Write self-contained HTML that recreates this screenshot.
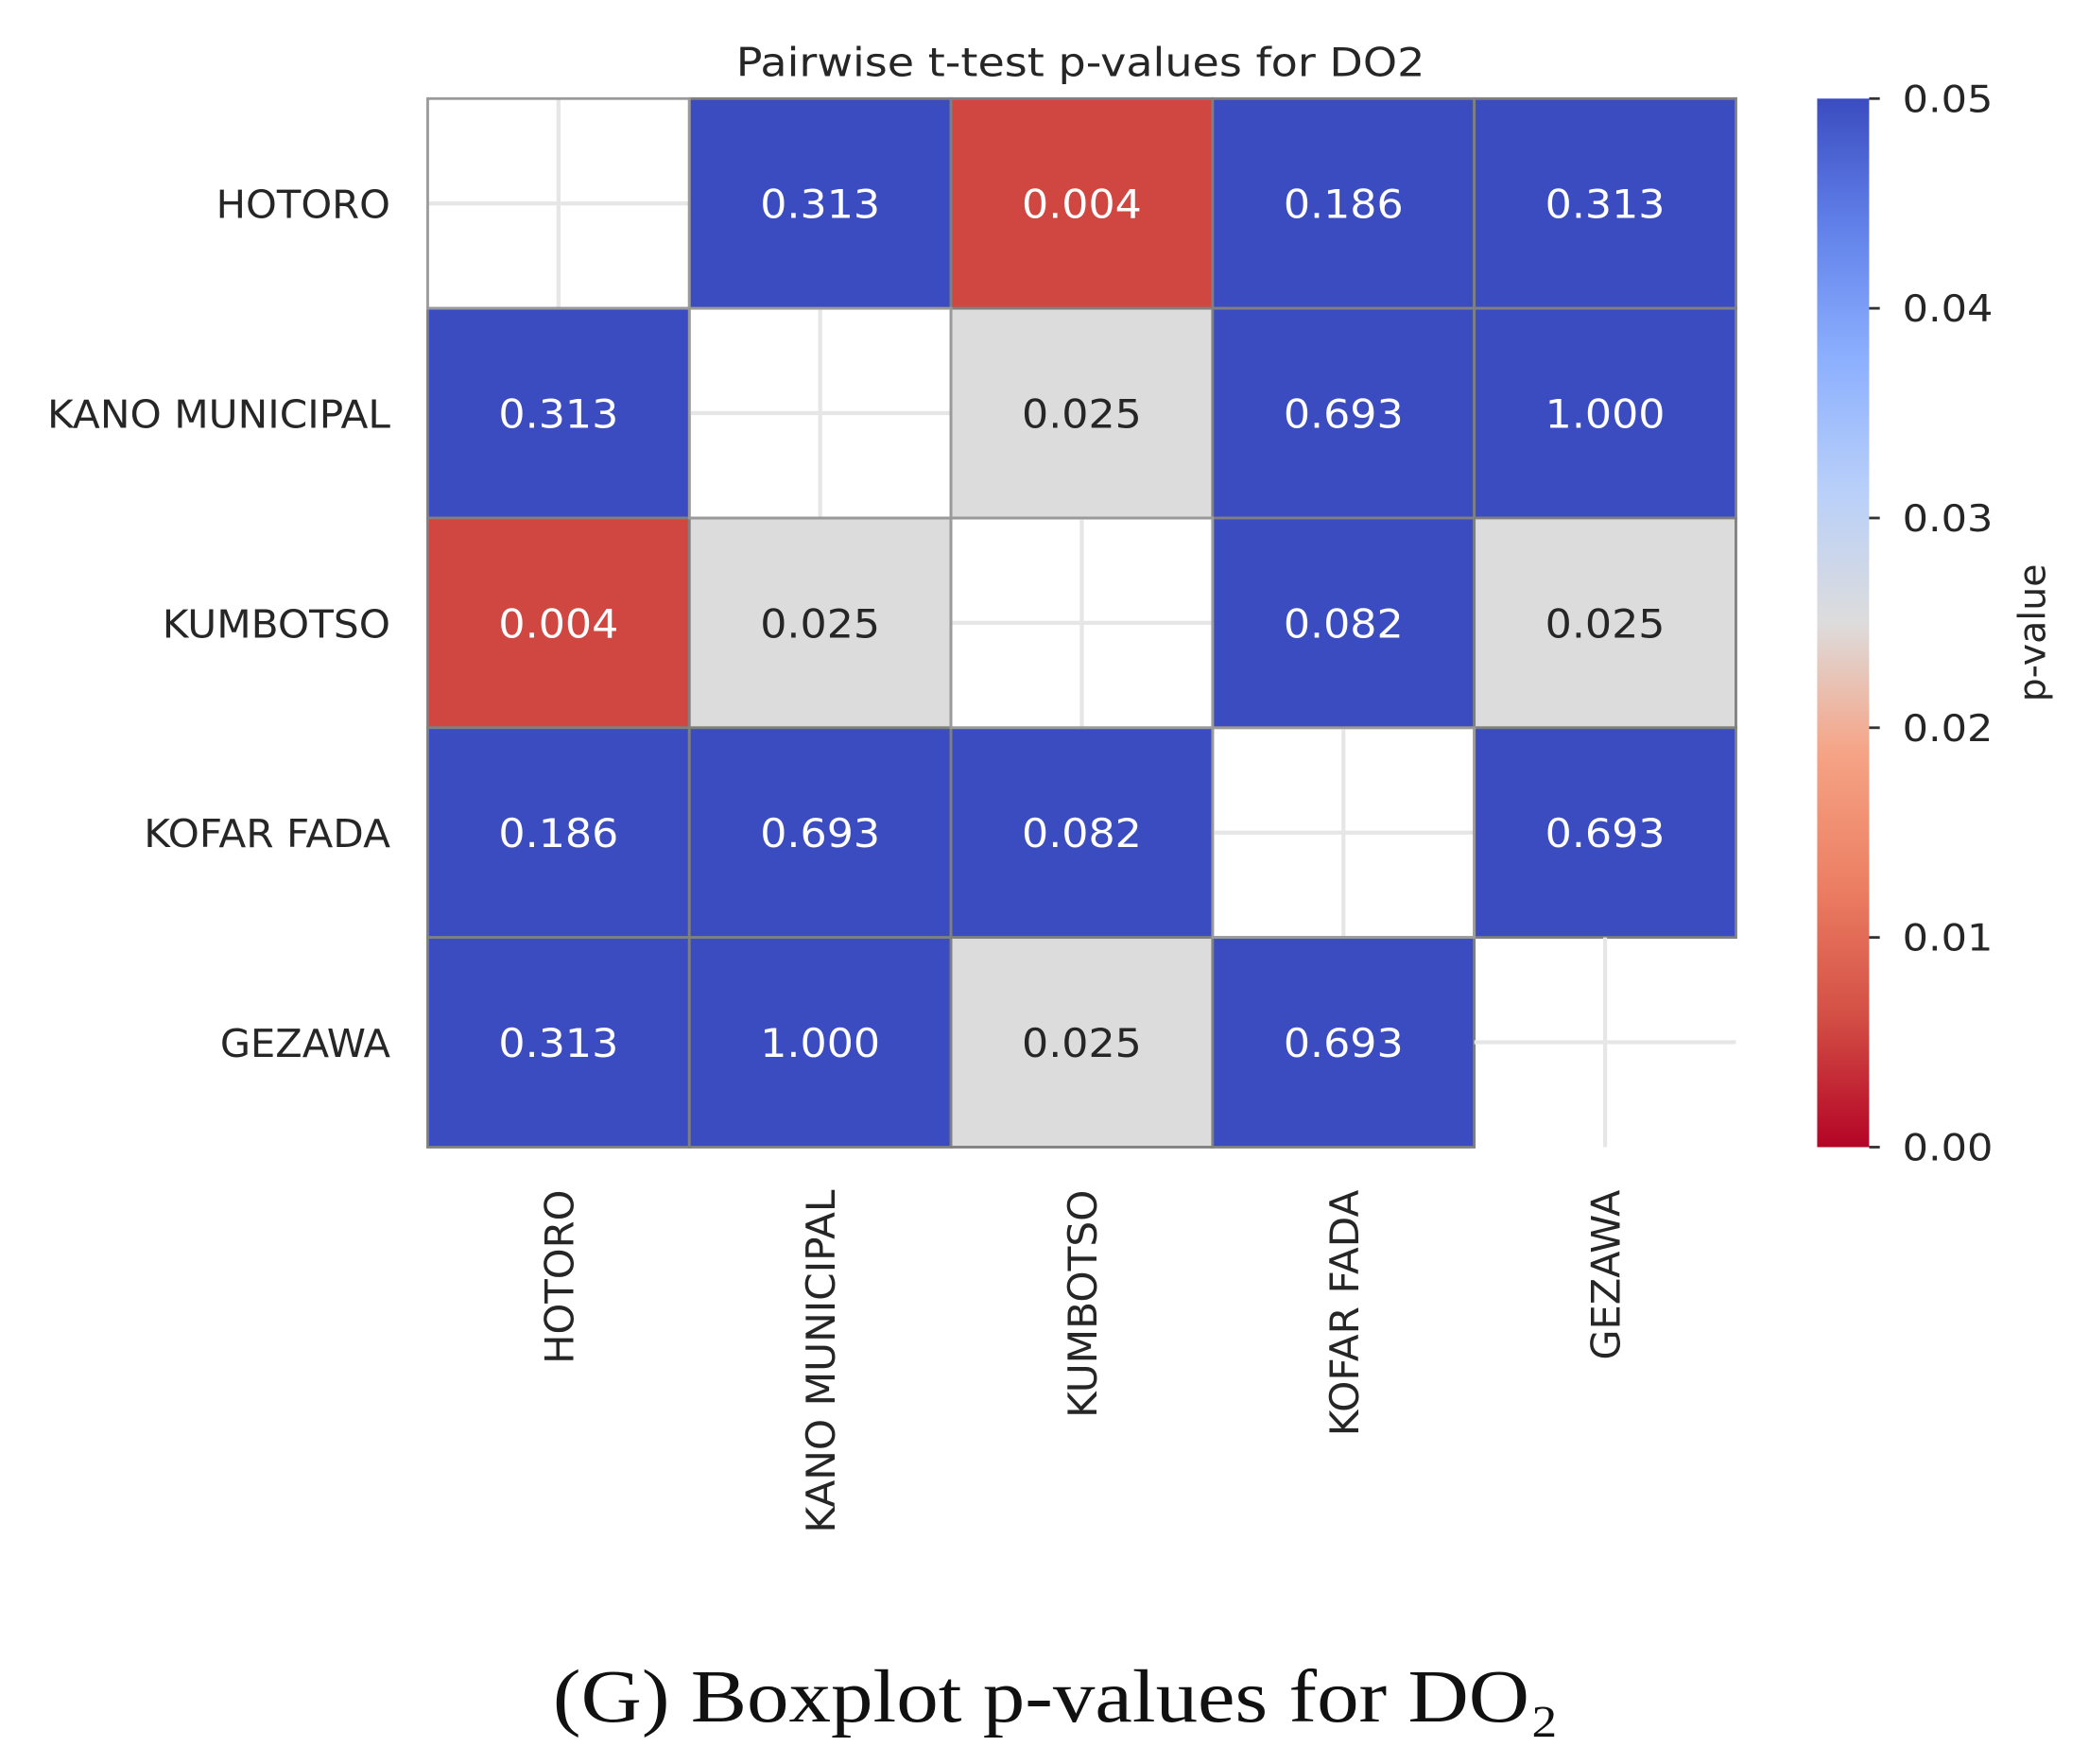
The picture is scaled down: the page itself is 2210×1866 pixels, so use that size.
<!DOCTYPE html>
<html><head><meta charset="utf-8"><style>
html,body{margin:0;padding:0;background:#fff}
svg{display:block}
</style></head><body>
<svg id="chart" width="2210" height="1866" viewBox="0 0 1568 1324" xmlns="http://www.w3.org/2000/svg" font-family="DejaVu Sans, Liberation Sans, sans-serif">
<defs>
<linearGradient id="cbgrad" x1="0" y1="1" x2="0" y2="0">
<stop offset="0" stop-color="#b40426"/>
<stop offset="0.125" stop-color="#d34f45"/>
<stop offset="0.25" stop-color="#ec7f63"/>
<stop offset="0.375" stop-color="#f6a385"/>
<stop offset="0.5" stop-color="#dddcdc"/>
<stop offset="0.625" stop-color="#b9d0f9"/>
<stop offset="0.75" stop-color="#8db0fe"/>
<stop offset="0.875" stop-color="#6282ea"/>
<stop offset="1" stop-color="#3b4cc0"/>
</linearGradient>
</defs>
<text x="811" y="57" font-size="30" text-anchor="middle" fill="#262626" textLength="517" lengthAdjust="spacingAndGlyphs">Pairwise t-test p-values for DO2</text>
<g id="cells"></g>
<g id="ylabels"></g>
<g id="xlabels"></g>
<rect x="1364" y="74" width="39" height="787" fill="url(#cbgrad)"/>
<g id="cbticks"></g>
<text transform="translate(1535,475) rotate(-90)" font-size="28" text-anchor="middle" fill="#262626">p-value</text>
<text x="415" y="1292" font-size="56" fill="#111" font-family="Liberation Serif, serif" textLength="755" lengthAdjust="spacingAndGlyphs">(G) Boxplot p-values for DO₂</text>
</svg>
<script>
const categories = ["HOTORO","KANO MUNICIPAL","KUMBOTSO","KOFAR FADA","GEZAWA"];
const row0 = [null, 0.313, 0.004, 0.186, 0.313];
const row1 = [0.313, null, 0.025, 0.693, 1.000];
const row2 = [0.004, 0.025, null, 0.082, 0.025];
const row3 = [0.186, 0.693, 0.082, null, 0.693];
const row4 = [0.313, 1.000, 0.025, 0.693, null];
const cbTicks = [0.00, 0.01, 0.02, 0.03, 0.04, 0.05];
const vmin = 0, vmax = 0.05;

const labelWidthPerChar = {"HOTORO":21.8,"KANO MUNICIPAL":18.4,"KUMBOTSO":21.4,"KOFAR FADA":18.5,"GEZAWA":21.3};
const matrix = [row0,row1,row2,row3,row4];
const NS = "http://www.w3.org/2000/svg";
const X0 = 321, X1 = 1303, Y0 = 74, Y1 = 861;
const cw = (X1 - X0) / categories.length, ch = (Y1 - Y0) / categories.length;
const xPos = i => X0 + i * cw;
const yPos = i => Y0 + i * ch;
const cbY = v => Y1 - (v - vmin) / (vmax - vmin) * (Y1 - Y0);
const stops = [[0,[180,4,38]],[0.125,[224,108,80]],[0.25,[236,127,99]],[0.375,[246,163,133]],[0.5,[221,220,220]],[0.625,[185,208,249]],[0.75,[141,176,254]],[0.875,[98,130,234]],[1,[59,76,192]]];
function color(v){
  let t = Math.max(0, Math.min(1, (v - vmin) / (vmax - vmin)));
  for (let k = 1; k < stops.length; k++) {
    if (t <= stops[k][0]) {
      const a = stops[k-1], b = stops[k], f = (t - a[0]) / (b[0] - a[0]);
      const c = a[1].map((x, j) => Math.round(x + (b[1][j] - x) * f));
      return {fill: `rgb(${c})`, lum: (0.299*c[0]+0.587*c[1]+0.114*c[2])};
    }
  }
}
function mk(tag, attrs, parent){
  const e = document.createElementNS(NS, tag);
  for (const k in attrs) e.setAttribute(k, attrs[k]);
  parent.appendChild(e); return e;
}
const cells = document.getElementById('cells');
matrix.forEach((row, r) => {
  row.forEach((v, c) => {
    if (v === null) {
      const g = mk('g', {}, cells);
      
      
      mk('line', {x1: xPos(c) + cw/2, x2: xPos(c) + cw/2, y1: yPos(r), y2: yPos(r) + ch, stroke: '#e6e6e6', 'stroke-width': 3}, g);
      mk('line', {x1: xPos(c), x2: xPos(c) + cw, y1: yPos(r) + ch/2, y2: yPos(r) + ch/2, stroke: '#e6e6e6', 'stroke-width': 3}, g);
      return;
    }
    const col = color(v);
    const rect = mk('rect', {x: xPos(c), y: yPos(r), width: cw, height: ch, fill: col.fill, stroke: '#808080', 'stroke-width': 2}, cells);
    
    
    const t = mk('text', {x: xPos(c) + cw/2, y: yPos(r) + ch/2 + 11, 'font-size': 30, 'text-anchor': 'middle', fill: col.lum < 150 ? '#ffffff' : '#262626', textLength: 90, lengthAdjust: 'spacingAndGlyphs'}, cells);
    t.textContent = v.toFixed(3);
    
    
  });
});
matrix.forEach((row, r) => {
  if (r === matrix.length - 1) return;
  const b = mk('rect', {x: xPos(r), y: yPos(r), width: cw, height: ch, fill: 'none', stroke: '#9a9a9a', 'stroke-width': 2}, cells);
  
  
});
const yl = document.getElementById('ylabels');
const xl = document.getElementById('xlabels');
categories.forEach((name, i) => {
  const w = name.length * (labelWidthPerChar[name] || 18.4);
  const t = mk('text', {x: 293, y: yPos(i) + ch/2 + 11, 'font-size': 29, 'text-anchor': 'end', fill: '#262626', textLength: w, lengthAdjust: 'spacingAndGlyphs'}, yl);
  t.textContent = name;
  
  
  const cx = xPos(i) + cw/2;
  const t2 = mk('text', {transform: `translate(${cx + 11},893) rotate(-90)`, 'font-size': 30, 'text-anchor': 'end', fill: '#262626', textLength: w, lengthAdjust: 'spacingAndGlyphs'}, xl);
  t2.textContent = name;
  
  
});
const cbt = document.getElementById('cbticks');
cbTicks.forEach(v => {
  const y = cbY(v);
  const l = mk('line', {x1: 1403, x2: 1411, y1: y, y2: y, stroke: '#333', 'stroke-width': 2}, cbt);
  
  
  const t = mk('text', {x: 1428, y: y + 10, 'font-size': 28, fill: '#262626', textLength: 68, lengthAdjust: 'spacingAndGlyphs'}, cbt);
  t.textContent = v.toFixed(2);
  
  
});
</script>
</body></html>
